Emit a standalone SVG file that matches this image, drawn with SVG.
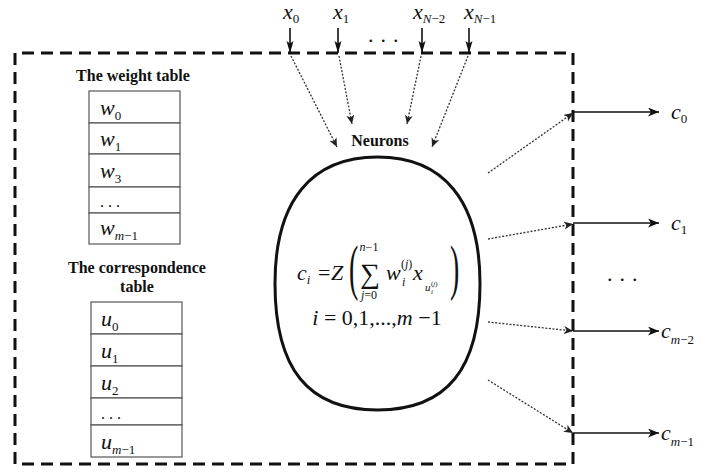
<svg xmlns="http://www.w3.org/2000/svg" width="706" height="474" viewBox="0 0 706 474">
<style>
text{font-family:"Liberation Serif","DejaVu Serif","Times New Roman",serif;fill:#111}
.b{font-weight:bold;font-size:16px}
.m{font-style:italic;font-size:22px}
.s{font-size:13px}
.cell{fill:#fff;stroke:#555;stroke-width:1.2}
.frame{fill:none;stroke:#111;stroke-width:3;stroke-dasharray:12 7}
.solid{stroke:#111;stroke-width:1.6;fill:none}
.dot{stroke:#333;stroke-width:1.3;stroke-dasharray:2 1.6;fill:none}
</style>
<defs>
<marker id="ah" markerUnits="userSpaceOnUse" markerWidth="12" markerHeight="10" refX="11" refY="4.5" orient="auto"><path d="M0,0 L11,4.5 L0,9 L3,4.5 z" fill="#111"/></marker>
<marker id="vh" markerUnits="userSpaceOnUse" markerWidth="13" markerHeight="8" refX="12" refY="3.5" orient="auto"><path d="M0,0 L12,3.5 L0,7 L2.5,3.5 z" fill="#111"/></marker>
<marker id="dh" markerUnits="userSpaceOnUse" markerWidth="10" markerHeight="9" refX="9" refY="4" orient="auto"><path d="M0,0 L9,4 L0,8 L2.5,4 z" fill="#222"/></marker>
</defs>
<rect width="706" height="474" fill="#fff"/>

<g id="frame"><path class="frame" d="M15,464 L15,53 L573,53 L573,464 Z"/></g>

<g id="weight-table">
<text class="b" x="133" y="81" text-anchor="middle">The weight table</text>
<rect class="cell" x="89" y="91" width="91" height="32"/>
<rect class="cell" x="89" y="123" width="91" height="31"/>
<rect class="cell" x="89" y="154" width="91" height="33"/>
<rect class="cell" x="89" y="187" width="91" height="26"/>
<rect class="cell" x="89" y="213" width="91" height="31"/>
<text class="m" x="100" y="115">w<tspan class="s" font-style="normal" dy="5">0</tspan></text>
<text class="m" x="100" y="146">w<tspan class="s" font-style="normal" dy="5">1</tspan></text>
<text class="m" x="100" y="178">w<tspan class="s" font-style="normal" dy="5">3</tspan></text>
<text x="100" y="207" font-size="16" letter-spacing="4">...</text>
<text class="m" x="100" y="235">w<tspan class="s" dy="5">m</tspan><tspan class="s" font-style="normal">−1</tspan></text>
</g>

<g id="corr-table">
<text class="b" x="137" y="273" text-anchor="middle">The correspondence</text>
<text class="b" x="137" y="292" text-anchor="middle">table</text>
<rect class="cell" x="91" y="302" width="91" height="32"/>
<rect class="cell" x="91" y="334" width="91" height="32"/>
<rect class="cell" x="91" y="366" width="91" height="32"/>
<rect class="cell" x="91" y="398" width="91" height="27"/>
<rect class="cell" x="91" y="425" width="91" height="32"/>
<text class="m" x="101" y="326">u<tspan class="s" font-style="normal" dy="5">0</tspan></text>
<text class="m" x="101" y="358">u<tspan class="s" font-style="normal" dy="5">1</tspan></text>
<text class="m" x="101" y="390">u<tspan class="s" font-style="normal" dy="5">2</tspan></text>
<text x="101" y="419" font-size="16" letter-spacing="4">...</text>
<text class="m" x="101" y="449">u<tspan class="s" dy="5">m</tspan><tspan class="s" font-style="normal">−1</tspan></text>
</g>

<g id="neuron">
<text class="b" x="380" y="146" text-anchor="middle">Neurons</text>
<path d="M377.5,157 C443,157 480,200 480,283.5 C480,369 447,410 377.5,410 C308,410 275,369 275,283.5 C275,200 312,157 377.5,157 Z" fill="none" stroke="#111" stroke-width="3"/>
<text class="m" x="297" y="280">c<tspan class="s" dy="4">i</tspan></text>
<text x="318" y="280" font-size="22">=</text>
<text class="m" x="331" y="280">Z</text>
<text transform="translate(349,288) scale(0.45,1)" font-size="62">(</text>
<text x="360" y="283" font-size="28">∑</text>
<text x="369" y="251" font-size="12" text-anchor="middle"><tspan font-style="italic">n</tspan>−1</text>
<text x="369" y="299" font-size="12" text-anchor="middle"><tspan font-style="italic">j</tspan>=0</text>
<text class="m" x="386" y="280">w</text>
<text x="401" y="268" font-size="12">(<tspan font-style="italic">j</tspan>)</text>
<text x="402" y="286" font-size="12" font-style="italic">i</text>
<text class="m" x="413" y="280">x</text>
<text x="425" y="291" font-size="11" font-style="italic">u</text>
<text x="431" y="294" font-size="7" font-style="italic">i</text>
<text x="431" y="286" font-size="7">(<tspan font-style="italic">j</tspan>)</text>
<text transform="translate(450,288) scale(0.45,1)" font-size="62">)</text>
<text class="m" x="377" y="325" text-anchor="middle">i<tspan font-style="normal"> = 0,1,...,</tspan>m<tspan font-style="normal"> −1</tspan></text>
</g>

<g id="inputs">
<text class="m" x="283" y="19" font-size="21">x<tspan class="s" font-style="normal" dy="4">0</tspan></text>
<text class="m" x="333" y="19" font-size="21">x<tspan class="s" font-style="normal" dy="4">1</tspan></text>
<text class="m" x="413" y="19" font-size="21">x<tspan class="s" dy="4">N</tspan><tspan class="s" font-style="normal">−2</tspan></text>
<text class="m" x="464" y="19" font-size="21">x<tspan class="s" dy="4">N</tspan><tspan class="s" font-style="normal">−1</tspan></text>
<text x="368" y="42" font-size="22" letter-spacing="7">...</text>
</g>

<g id="outputs">
<text class="m" x="671" y="119">c<tspan class="s" font-style="normal" dy="4">0</tspan></text>
<text class="m" x="671" y="230">c<tspan class="s" font-style="normal" dy="4">1</tspan></text>
<text class="m" x="661" y="338">c<tspan class="s" dy="6">m</tspan><tspan class="s" font-style="normal">−2</tspan></text>
<text class="m" x="661" y="440">c<tspan class="s" dy="6">m</tspan><tspan class="s" font-style="normal">−1</tspan></text>
<text x="607" y="281" font-size="22" letter-spacing="7">...</text>
</g>

<g id="connectors">
<line class="solid" x1="290" y1="28" x2="290" y2="53" marker-end="url(#vh)"/>
<line class="solid" x1="338" y1="28" x2="338" y2="53" marker-end="url(#vh)"/>
<line class="solid" x1="422" y1="28" x2="422" y2="53" marker-end="url(#vh)"/>
<line class="solid" x1="469" y1="28" x2="469" y2="53" marker-end="url(#vh)"/>
<line class="dot" x1="291" y1="56" x2="337" y2="147" marker-end="url(#dh)"/>
<line class="dot" x1="339" y1="56" x2="352" y2="124" marker-end="url(#dh)"/>
<line class="dot" x1="421" y1="56" x2="407" y2="124" marker-end="url(#dh)"/>
<line class="dot" x1="468" y1="56" x2="432" y2="147" marker-end="url(#dh)"/>
<line class="dot" x1="488" y1="173" x2="573" y2="113" marker-end="url(#dh)"/>
<line class="dot" x1="488" y1="239" x2="573" y2="224" marker-end="url(#dh)"/>
<line class="dot" x1="488" y1="322" x2="573" y2="331" marker-end="url(#dh)"/>
<line class="dot" x1="488" y1="380" x2="573" y2="433" marker-end="url(#dh)"/>
<line class="solid" x1="573" y1="112" x2="659" y2="112" marker-end="url(#ah)"/>
<line class="solid" x1="573" y1="223" x2="659" y2="223" marker-end="url(#ah)"/>
<line class="solid" x1="573" y1="331" x2="659" y2="331" marker-end="url(#ah)"/>
<line class="solid" x1="573" y1="433" x2="659" y2="433" marker-end="url(#ah)"/>
</g>
</svg>
